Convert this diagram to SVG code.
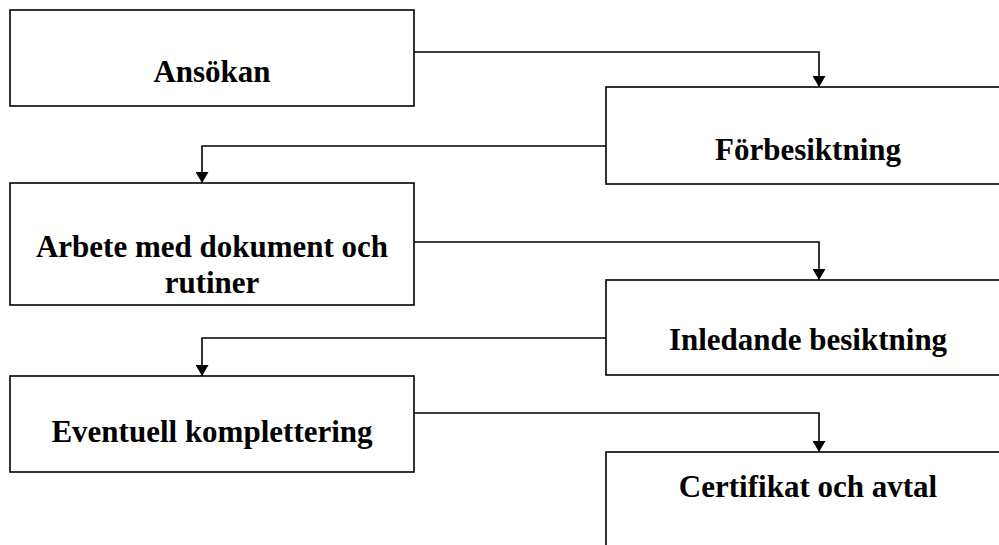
<svg xmlns="http://www.w3.org/2000/svg" width="999" height="545" viewBox="0 0 999 545">
<style>
.box{fill:#fff;stroke:#000;stroke-width:1.6}
.lbl{font-family:"Liberation Serif","Times New Roman",serif;font-weight:bold;font-size:31px;fill:#000;text-anchor:middle}
.conn{fill:none;stroke:#000;stroke-width:1.6}
</style>
<defs>
<marker id="arr" markerUnits="userSpaceOnUse" markerWidth="12" markerHeight="13" refX="11" refY="6.5" orient="auto">
<path d="M0,0 L11,6.5 L0,13 z" fill="#000"/>
</marker>
</defs>
<rect width="999" height="545" fill="#fff"/>
<g id="n1"><rect class="box" x="10" y="10" width="404" height="96"/><text class="lbl" x="212" y="82">Ansökan</text></g>
<g id="n2"><rect class="box" x="606" y="87" width="404" height="97"/><text class="lbl" x="808" y="160">Förbesiktning</text></g>
<g id="n3"><rect class="box" x="10" y="183" width="404" height="122"/><text class="lbl" x="212" y="257">Arbete med dokument och</text><text class="lbl" x="212" y="293">rutiner</text></g>
<g id="n4"><rect class="box" x="606" y="280" width="404" height="95"/><text class="lbl" x="808" y="350">Inledande besiktning</text></g>
<g id="n5"><rect class="box" x="10" y="376" width="404" height="96"/><text class="lbl" x="212" y="442">Eventuell komplettering</text></g>
<g id="n6"><rect class="box" x="606" y="452" width="404" height="120"/><text class="lbl" x="808" y="497">Certifikat och avtal</text></g>
<g id="connectors">
<path class="conn" d="M414,52 H819 V87" marker-end="url(#arr)"/>
<path class="conn" d="M606,146 H202 V183" marker-end="url(#arr)"/>
<path class="conn" d="M414,242 H819 V280" marker-end="url(#arr)"/>
<path class="conn" d="M606,338 H202 V376" marker-end="url(#arr)"/>
<path class="conn" d="M414,413 H819 V452" marker-end="url(#arr)"/>
</g>
</svg>
